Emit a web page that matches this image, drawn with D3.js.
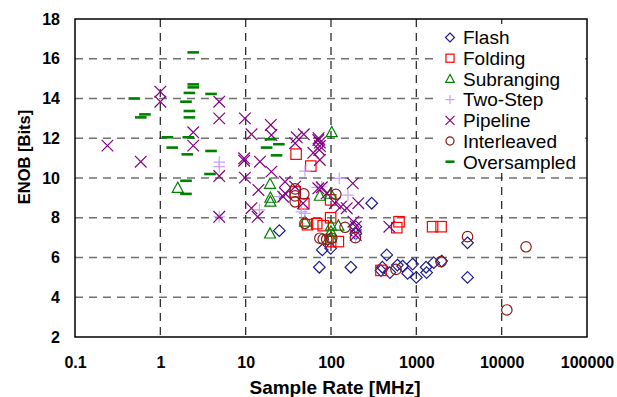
<!DOCTYPE html>
<html><head><meta charset="utf-8">
<script src="https://cdn.jsdelivr.net/npm/d3@7"></script>
<style>body{margin:0;background:#fff}svg{display:block}</style>
</head><body>
<svg id="c" width="617" height="397"></svg>
<script>
// ---- data ([sample rate MHz, ENOB bits]) ----
const flash = [[300,8.73],[24.8,7.35],[195,7.55],[195,7.2],[79,6.38],[99,6.46],[73,5.51],[171,5.51],[450,6.13],[400,5.51],[385,5.34],[490,5.24],[600,5.62],[690,5.57],[790,5.2],[905,5.67],[1000,5.0],[1300,5.51],[1320,5.24],[1600,5.74],[1980,5.82],[3980,6.74],[3980,5.0]];
const folding = [[39,11.2],[58,10.6],[38,9.3],[48,8.7],[99,8.9],[99,8.0],[68,7.7],[53,7.65],[81,7.6],[99,6.8],[122,6.8],[627,7.8],[590,7.5],[1550,7.55],[1950,7.55],[385,5.35]];
const subranging = [[1.6,9.5],[19.3,9.7],[19.5,9.0],[19.5,8.8],[19.3,7.2],[102,12.3],[74,9.1],[99,9.2],[49.5,7.8],[100,7.6],[122,7.6],[100,7.3],[100,7.0]];
const twoStep = [[4.9,10.8],[4.9,10.57],[4.9,8.05],[14.5,8.4],[49.5,10.35],[125,9.98],[158,9.14],[69,9.53],[24.8,9.06],[45,8.3],[78,9.56],[49.5,8.22],[195,7.05]];
const pipeline = [[0.24,11.63],[0.59,10.82],[1.0,14.34],[1.0,13.84],[4.9,13.84],[4.9,13.0],[2.43,12.3],[2.43,11.63],[4.9,10.1],[9.6,10.99],[9.6,10.87],[14.7,10.82],[9.8,10.02],[14.1,9.4],[11.7,8.48],[13.8,8.05],[4.9,8.05],[9.8,13.0],[11.7,12.2],[19.7,12.67],[20,12.16],[39.7,12.05],[48,12.2],[71.5,12.0],[38,11.75],[71,11.91],[74,11.78],[74,11.61],[73,11.41],[62,11.27],[74,10.91],[20,10.32],[28.9,9.81],[38,9.56],[78,9.53],[180,9.73],[89,9.23],[111,8.73],[153,8.48],[209,8.73],[183,7.8],[27.5,9.06],[47,8.73],[29,9.23],[71,9.48],[131,8.56],[195,7.55],[195,7.13],[483,7.55]];
const interleaved = [[38,9.45],[38,9.1],[38,8.8],[48,9.2],[114,9.18],[49.5,7.72],[74,6.97],[89,6.92],[102,6.97],[146,7.52],[193,7.0],[81,6.92],[578,5.4],[1950,5.79],[3980,7.05],[19300,6.54],[11500,3.36]];
const oversampled = [[2.43,16.32],[2.43,14.71],[2.43,14.56],[2.19,14.28],[3.93,14.23],[0.495,14.0],[2.0,13.84],[0.66,13.2],[0.59,13.05],[2.19,13.37],[2.19,13.05],[1.21,12.05],[2.13,12.05],[1.38,11.53],[3.93,11.36],[2.07,11.19],[3.82,10.2],[2.0,9.86],[2.0,9.2],[19.5,11.95],[24.5,11.7],[17.6,11.53],[23,11.14]];

const seriesNames = ["Flash","Folding","Subranging","Two-Step","Pipeline","Interleaved","Oversampled"];
const seriesData = [flash, folding, subranging, twoStep, pipeline, interleaved, oversampled];
const xTicks = [0.1,1,10,100,1000,10000,100000];
const xTickLabels = ["0.1","1","10","100","1000","10000","100000"];
const yTicks = [2,4,6,8,10,12,14,16,18];

// ---- styling ----
const colors = ["#1c1c8c","#ff0000","#008000","#c9a0ff","#800080","#8b1a1a","#008000"];
const shapes = ["diamond","square","triangle","plus","x","circle","dash"];

const svg = d3.select("#c");
const L = 75, R = 587, T = 19, B = 337;
const x = d3.scaleLog().domain([0.1,100000]).range([L,R]);
const y = d3.scaleLinear().domain([2,18]).range([B,T]);
const font = "'Liberation Sans', Arial, Helvetica, sans-serif";

// grid
svg.append("g").selectAll("line").data(yTicks.filter(v=>v>2&&v<18)).join("line")
  .attr("x1",L).attr("x2",R).attr("y1",d=>y(d)).attr("y2",d=>y(d))
  .attr("stroke","#707070").attr("stroke-width",1.3).attr("stroke-dasharray","8,6");
svg.append("g").selectAll("line").data(xTicks.filter(v=>v>0.1&&v<100000)).join("line")
  .attr("y1",T).attr("y2",B).attr("x1",d=>x(d)).attr("x2",d=>x(d))
  .attr("stroke","#303030").attr("stroke-width",1.3).attr("stroke-dasharray","8,6");

// axes
const xa = svg.append("g").attr("transform",`translate(0,${B})`)
  .call(d3.axisBottom(x).tickValues(xTicks).tickFormat((d,i)=>xTickLabels[i]).tickSize(0).tickPadding(20));
const ya = svg.append("g").attr("transform",`translate(${L},0)`)
  .call(d3.axisLeft(y).tickValues(yTicks).tickFormat(d3.format("d")).tickSize(0).tickPadding(15));
[xa,ya].forEach(g=>{
  g.select(".domain").remove();
  g.selectAll("text").attr("font-family",font).attr("font-weight","bold").attr("font-size","16px").attr("fill","#000");
});

// frame
svg.append("rect").attr("x",L).attr("y",T).attr("width",R-L).attr("height",B-T)
  .attr("fill","none").attr("stroke","#000").attr("stroke-width",1.5);

// axis titles
svg.append("text").attr("x",335).attr("y",394).attr("text-anchor","middle")
  .attr("font-family",font).attr("font-weight","bold").attr("font-size","19px").text("Sample Rate [MHz]");
svg.append("text").attr("transform","translate(30,157) rotate(-90)").attr("text-anchor","middle")
  .attr("font-family",font).attr("font-weight","bold").attr("font-size","16.5px").text("ENOB [Bits]");

// markers
function marker(g, shape, color, s){
  const sw = 1.2;
  if(shape==="diamond") g.append("path").attr("d",`M0,${-s}L${s},0L0,${s}L${-s},0Z`).attr("fill","none").attr("stroke",color).attr("stroke-width",sw);
  else if(shape==="square") g.append("rect").attr("x",-s*0.9).attr("y",-s*0.9).attr("width",s*1.8).attr("height",s*1.8).attr("fill","none").attr("stroke",color).attr("stroke-width",sw);
  else if(shape==="triangle") g.append("path").attr("d",`M0,${-s}L${s*0.95},${s*0.75}L${-s*0.95},${s*0.75}Z`).attr("fill","none").attr("stroke",color).attr("stroke-width",sw);
  else if(shape==="plus") g.append("path").attr("d",`M${-s},0H${s}M0,${-s}V${s}`).attr("stroke",color).attr("stroke-width",sw);
  else if(shape==="x") g.append("path").attr("d",`M${-s},${-s}L${s},${s}M${-s},${s}L${s},${-s}`).attr("stroke",color).attr("stroke-width",sw);
  else if(shape==="circle") g.append("circle").attr("r",s*0.9).attr("fill","none").attr("stroke",color).attr("stroke-width",sw);
  else if(shape==="dash") g.append("path").attr("d",`M${-s},0H${s}`).attr("stroke",color).attr("stroke-width",2.6);
}
seriesData.forEach((data,i)=>{
  const g = svg.append("g");
  data.forEach(d=>{
    const m = g.append("g").attr("transform",`translate(${x(d[0])},${y(d[1])})`);
    marker(m, shapes[i], colors[i], 5.8);
  });
});

// legend
svg.append("rect").attr("x",437).attr("y",24).attr("width",148).attr("height",148).attr("fill","#fff");
const lg = svg.append("g");
seriesNames.forEach((n,i)=>{
  const yy = 37.5 + i*20.7;
  const m = lg.append("g").attr("transform",`translate(450,${yy})`);
  marker(m, shapes[i], colors[i], 4.5);
  lg.append("text").attr("x",463).attr("y",yy).attr("dy","0.36em")
    .attr("font-family",font).attr("font-size","19px").text(n);
});
</script>
</body></html>
